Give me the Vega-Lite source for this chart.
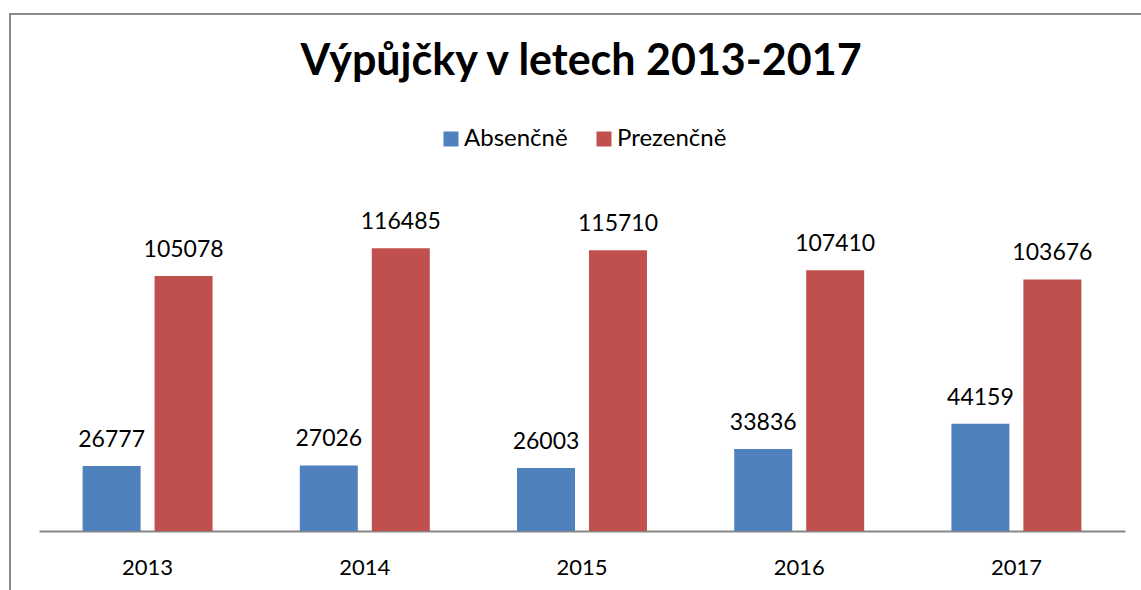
{
  "$schema": "https://vega.github.io/schema/vega-lite/v6.json",
  "width": 1132,
  "height": 577,
  "autosize": {"type": "none"},
  "padding": {"left": 10, "top": 14, "right": -1, "bottom": -1},
  "background": "white",
  "config": {
    "view": {"stroke": "#8a8a8a", "strokeWidth": 2},
    "font": "Lato"
  },
  "title": {
    "text": "Výpůjčky v letech 2013-2017",
    "font": "Lato",
    "fontSize": 43,
    "fontWeight": "bold",
    "color": "black",
    "anchor": "middle",
    "baseline": "bottom",
    "offset": -66,
    "dy": 47,
    "dx": 5
  },
  "data": {
    "values": [
      {"year": "2013", "series": "Absenčně", "value": 26777},
      {"year": "2013", "series": "Prezenčně", "value": 105078},
      {"year": "2014", "series": "Absenčně", "value": 27026},
      {"year": "2014", "series": "Prezenčně", "value": 116485},
      {"year": "2015", "series": "Absenčně", "value": 26003},
      {"year": "2015", "series": "Prezenčně", "value": 115710},
      {"year": "2016", "series": "Absenčně", "value": 33836},
      {"year": "2016", "series": "Prezenčně", "value": 107410},
      {"year": "2017", "series": "Absenčně", "value": 44159},
      {"year": "2017", "series": "Prezenčně", "value": 103676}
    ]
  },
  "encoding": {
    "x": {
      "field": "year",
      "type": "nominal",
      "scale": {"range": [29, 1115], "paddingInner": 0, "paddingOuter": 0},
      "axis": {
        "title": null,
        "orient": "bottom",
        "offset": -60,
        "ticks": false,
        "labelAngle": 0,
        "labelFont": "Lato",
        "labelFontSize": 22,
        "labelColor": "black",
        "labelPadding": 26,
        "labelBaseline": "top",
        "domainColor": "#868686",
        "domainWidth": 2,
        "grid": false
      }
    },
    "xOffset": {
      "field": "series",
      "type": "nominal",
      "sort": ["Absenčně", "Prezenčně"],
      "scale": {"paddingInner": 0.194, "paddingOuter": 0.606}
    },
    "y": {
      "field": "value",
      "type": "quantitative",
      "scale": {"domain": [-24722, 213020], "zero": false, "nice": false},
      "axis": null
    }
  },
  "layer": [
    {
      "mark": {"type": "bar"},
      "encoding": {
        "y2": {"datum": 0},
        "color": {
          "field": "series",
          "type": "nominal",
          "scale": {"domain": ["Absenčně", "Prezenčně"], "range": ["#4F81BD", "#C0504D"]},
          "legend": {
            "title": null,
            "orient": "none",
            "legendX": 429,
            "legendY": 113,
            "direction": "horizontal",
            "symbolType": "square",
            "symbolSize": 225,
            "symbolStrokeWidth": 0,
            "labelFont": "Lato",
            "labelFontSize": 24,
            "labelColor": "black",
            "labelOffset": 1,
            "columnPadding": 24,
            "padding": 0
          }
        }
      }
    },
    {
      "mark": {"type": "text", "baseline": "alphabetic", "dy": -19, "fontSize": 23, "font": "Lato", "color": "black"},
      "encoding": {
        "text": {"field": "value", "type": "quantitative", "format": "d"}
      }
    }
  ]
}
